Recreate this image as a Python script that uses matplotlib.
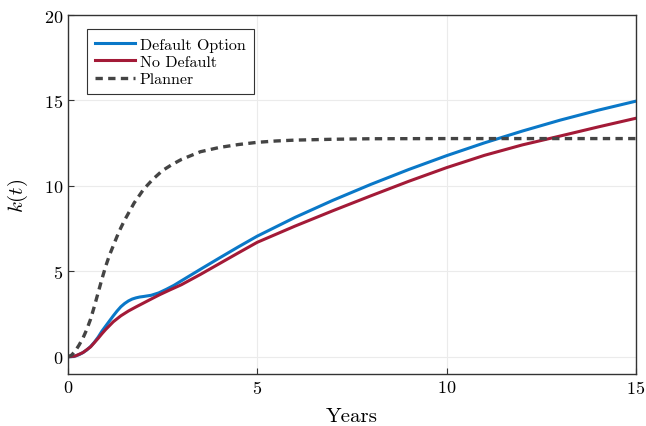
import numpy as np
import matplotlib.pyplot as plt

# Years / capital
t_default = [0, 0.1, 0.2, 0.3, 0.4, 0.5, 0.6, 0.7, 0.8, 0.9, 1.0, 1.1, 1.2, 1.3, 1.4, 1.5, 1.6, 1.7, 1.8, 1.9,
             2.0, 2.2, 2.4, 2.6, 2.8, 3.0, 3.5, 4, 4.5, 5, 6, 7, 8, 9, 10, 11, 12, 13, 14, 15]
k_default = [0, 0.01, 0.05, 0.13, 0.25, 0.4, 0.6, 0.85, 1.15, 1.5, 1.8, 2.1, 2.4, 2.68, 2.93, 3.12, 3.27, 3.38, 3.45, 3.5,
             3.53, 3.6, 3.74, 3.95, 4.18, 4.45, 5.12, 5.78, 6.43, 7.06, 8.16, 9.16, 10.09, 10.96, 11.77, 12.52, 13.21, 13.85, 14.43, 14.96]

t_nodefault = [0, 0.2, 0.4, 0.6, 0.8, 0.9, 1.0, 1.2, 1.4, 1.6, 1.8, 2.0, 2.2, 2.43, 2.7, 3, 3.5, 4, 4.5, 5,
               6, 7, 8, 9, 10, 11, 12, 13, 14, 15]
k_nodefault = [0, 0.05, 0.25, 0.58, 1.08, 1.35, 1.6, 2.05, 2.4, 2.68, 2.92, 3.15, 3.38, 3.64, 3.92, 4.22, 4.82, 5.45, 6.08, 6.7,
               7.65, 8.55, 9.42, 10.27, 11.07, 11.79, 12.4, 12.92, 13.45, 13.96]

t_planner = [0, 0.1, 0.2, 0.3, 0.4, 0.5, 0.6, 0.7, 0.8, 0.9, 1.0, 1.1, 1.2, 1.3, 1.4, 1.5, 1.75, 2.0, 2.25, 2.5, 2.75,
             3, 3.5, 4, 4.5, 5, 5.5, 6, 7, 8, 10, 15]
k_planner = [0, 0.1, 0.35, 0.7, 1.1, 1.6, 2.2, 2.95, 3.75, 4.55, 5.3, 5.95, 6.5, 7.05, 7.55, 8.0, 9.0, 9.8, 10.4, 10.9, 11.25,
             11.55, 12.0, 12.25, 12.42, 12.55, 12.63, 12.68, 12.73, 12.76, 12.77, 12.77]

plt.rcParams['font.family'] = 'serif'
plt.rcParams['font.serif'] = ['cmr10']
plt.rcParams['mathtext.fontset'] = 'cm'
plt.rcParams['axes.formatter.use_mathtext'] = True

fig = plt.figure(figsize=(6.46, 4.27), dpi=100)
ax = fig.add_axes([0.105, 0.122, 0.8795, 0.8405])

ax.plot(t_default, k_default, color='#0a78c8', lw=2.2, label='Default Option')
ax.plot(t_nodefault, k_nodefault, color='#a31a37', lw=2.2, label='No Default')
ax.plot(t_planner, k_planner, color='#444444', lw=2.4, ls=(0, (2.2, 1.6)), label='Planner')

ax.set_xlim(0, 15)
ax.set_ylim(-1, 20)
ax.set_xticks([0, 5, 10, 15])
ax.set_yticks([0, 5, 10, 15, 20])
ax.grid(True, color='#ebebeb', lw=0.8)
ax.tick_params(direction='in', labelsize=13, length=4, color='#333333')
for s in ax.spines.values():
    s.set_color('#333333')
    s.set_linewidth(1.0)

ax.set_xlabel('Years', fontsize=15, labelpad=8)
ax.set_ylabel('$k(t)$', fontsize=15, labelpad=10)

leg = ax.legend(loc='upper left', fontsize=11.5, fancybox=False, framealpha=1,
                edgecolor='#333333', borderpad=0.5, labelspacing=0.2,
                handlelength=2.5, handletextpad=0.3, bbox_to_anchor=(0.02, 0.982))
leg.get_frame().set_linewidth(0.8)

fig.savefig('out.png', dpi=100)
